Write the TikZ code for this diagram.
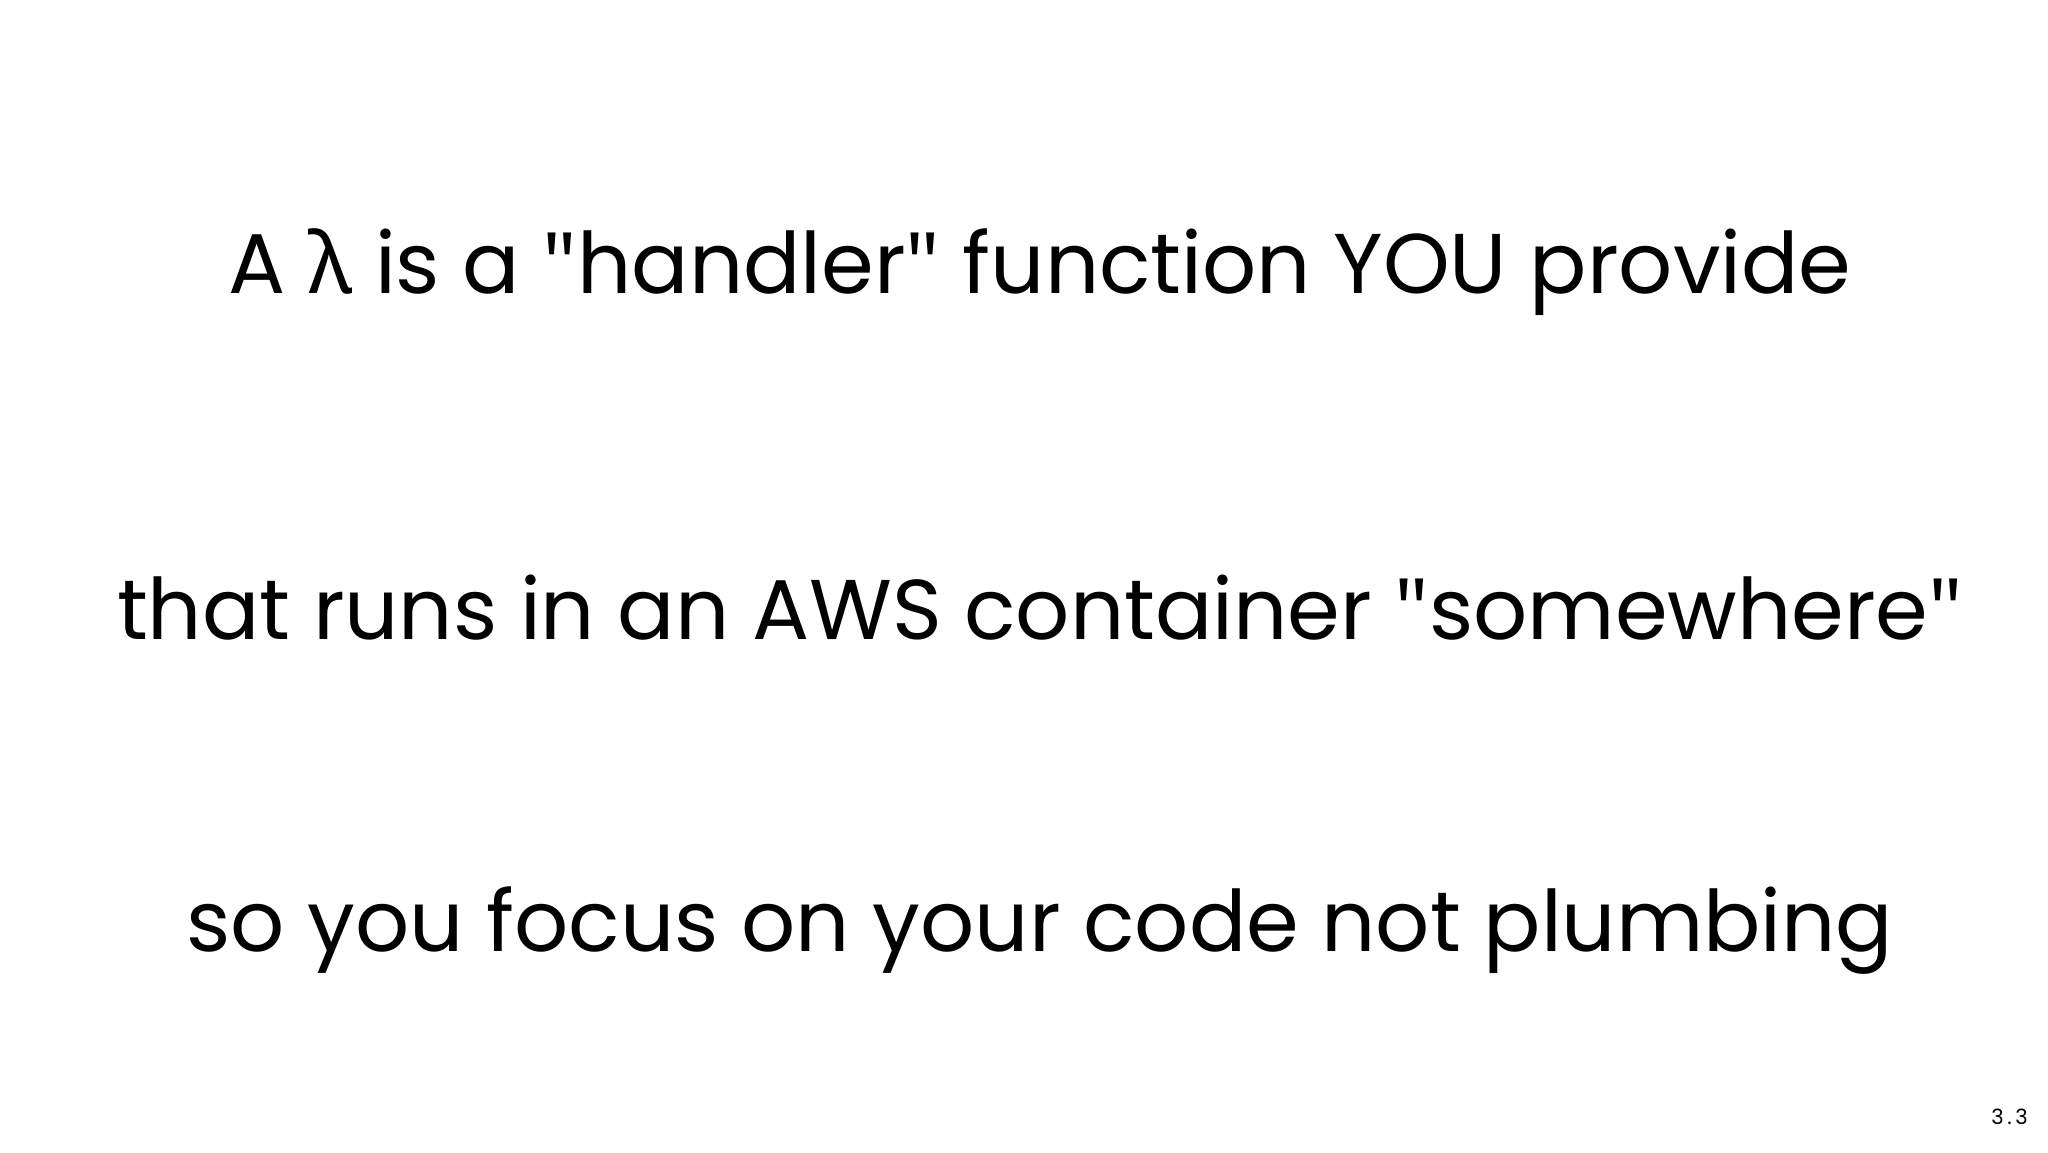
\documentclass[tikz,border=0pt]{standalone}
\usepackage{fontspec}
\setmainfont{Poppins}
\newfontfamily\grk{Noto Sans}
\newcommand{\q}{{\grk"}}
\begin{document}
\begin{tikzpicture}[x=1pt,y=1pt,line/.style={font=\fontsize{42.4}{50}\selectfont,anchor=base,inner sep=0}]
\useasboundingbox[fill=white] (0,0) rectangle (1024,576);
\node[line] (l1) at (520,429) {A {\grk λ} is a \q handler\q{} function YOU provide};
\node[line] (l2) at (520,256) {that runs in an AWS container \q somewhere\q};
\node[line] (l3) at (520,100.5) {so you focus on your code not plumbing};
\node[anchor=base east,inner sep=0,font=\fontsize{10.5}{12}\selectfont] (pg) at (1014,14) {3\,.\,3};
\end{tikzpicture}
\end{document}
